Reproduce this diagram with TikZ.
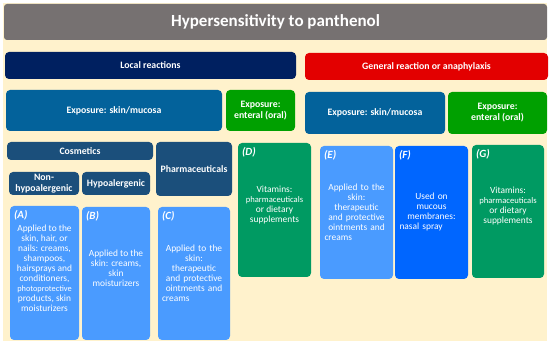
\documentclass[tikz,border=0pt]{standalone}
\usepackage{fontspec}
\setmainfont{Carlito}

\definecolor{titlegray}{HTML}{767171}
\definecolor{cream}{HTML}{FFF2CC}
\definecolor{navy}{HTML}{002060}
\definecolor{alarmred}{HTML}{E30000}
\definecolor{expblue}{HTML}{03629B}
\definecolor{oralgreen}{HTML}{00A000}
\definecolor{vitgreen}{HTML}{009A62}
\definecolor{catblue}{HTML}{1B4F7B}
\definecolor{lightblue}{HTML}{4A9BFF}
\definecolor{brightblue}{HTML}{0066FF}

\tikzset{
  box/.style={rounded corners=4pt, inner sep=0pt, text=white, align=center,
    font=\bfseries\fontsize{9.8}{11}\selectfont},
  body/.style={inner sep=0pt, text=white, align=center,
    font=\fontsize{9.4}{10}\selectfont},
  tag/.style={anchor=north west, inner sep=0pt, text=white,
    font=\bfseries\itshape\fontsize{11}{12}\selectfont},
}

\begin{document}
\begin{tikzpicture}[x=1pt,y=-1pt]
\useasboundingbox (0,0) rectangle (550,344);
\fill[cream] (3,3) rectangle (547,341);

% top rows
\node[box,fill=titlegray,rounded corners=3pt,minimum width=543,minimum height=36,
  font=\bfseries\fontsize{17}{19}\selectfont] (title) at (275.5,22) {Hypersensitivity to panthenol};
\node[box,fill=navy,minimum width=291,minimum height=27] (local) at (150.5,65.5) {Local reactions};
\node[box,fill=alarmred,minimum width=243,minimum height=27] (general) at (426.5,66.5) {General reaction or anaphylaxis};

\node[box,fill=expblue,minimum width=216,minimum height=41] (expL) at (114,110.5) {Exposure: skin/mucosa};
\node[box,fill=oralgreen,minimum width=69,minimum height=41] (oralL) at (260.5,110.5) {Exposure:\\enteral (oral)};
\node[box,fill=expblue,minimum width=140,minimum height=42] (expG) at (375,113) {Exposure: skin/mucosa};
\node[box,fill=oralgreen,minimum width=99,minimum height=42] (oralG) at (497.5,113) {Exposure:\\enteral (oral)};

\node[box,fill=catblue,minimum width=146,minimum height=18] (cosm) at (80,151) {Cosmetics};
\node[box,fill=catblue,minimum width=76,minimum height=54] (pharm) at (194,169) {Pharmaceuticals};
\node[box,fill=catblue,minimum width=70,minimum height=23] (nonhypo) at (44,183.5) {Non-\\hypoalergenic};
\node[box,fill=catblue,minimum width=68,minimum height=23] (hypo) at (116,183.5) {Hypoalergenic};

% product boxes
\node[box,fill=lightblue,minimum width=69,minimum height=134] (A) at (44.5,273) {};
\node[box,fill=lightblue,minimum width=68,minimum height=133] (B) at (116,273.5) {};
\node[box,fill=lightblue,minimum width=72,minimum height=133] (C) at (194,273.5) {};
\node[box,fill=vitgreen,minimum width=73,minimum height=134] (D) at (274.5,210) {};
\node[box,fill=lightblue,minimum width=73,minimum height=133] (E) at (356.5,212.5) {};
\node[box,fill=brightblue,minimum width=73,minimum height=133] (F) at (431.5,212.5) {};
\node[box,fill=vitgreen,minimum width=72,minimum height=133] (G) at (508,211.5) {};

\node[tag] (tagA) at ([xshift=4,yshift=-4]A.north west) {(A)};
\node[tag] (tagB) at ([xshift=4,yshift=-4]B.north west) {(B)};
\node[tag] (tagC) at ([xshift=4,yshift=-4]C.north west) {(C)};
\node[tag] (tagD) at ([xshift=4,yshift=-4]D.north west) {(D)};
\node[tag] (tagE) at ([xshift=4,yshift=-4]E.north west) {(E)};
\node[tag] (tagF) at ([xshift=4,yshift=-4]F.north west) {(F)};
\node[tag] (tagG) at ([xshift=4,yshift=-4]G.north west) {(G)};

\node[body] (txtA) at (44.5,268) {Applied to the\\skin, hair, or\\nails: creams,\\shampoos,\\hairsprays and\\conditioners,\\{\fontsize{8.3}{10}\selectfont photoprotective}\\products, skin\\moisturizers};
\node[body] (txtB) at (116,268) {Applied to the\\skin: creams,\\skin\\moisturizers};
\node[body,text width=64] (txtC) at (194,273) {Applied to the\\skin:\\therapeutic\\and protective\\ointments and\\\makebox[\linewidth][l]{creams}};
\node[body] (txtD) at (274.5,205) {Vitamins:\\{\fontsize{8.6}{10}\selectfont pharmaceuticals}\\or dietary\\supplements};
\node[body,text width=64] (txtE) at (356.5,212) {Applied to the\\skin:\\therapeutic\\and protective\\ointments and\\\makebox[\linewidth][l]{creams}};
\node[body,text width=64] (txtF) at (431.5,212) {Used on\\mucous\\membranes:\\\makebox[\linewidth][l]{nasal spray}};
\node[body] (txtG) at (508,206) {Vitamins:\\{\fontsize{8.6}{10}\selectfont pharmaceuticals}\\or dietary\\supplements};
\end{tikzpicture}
\end{document}
